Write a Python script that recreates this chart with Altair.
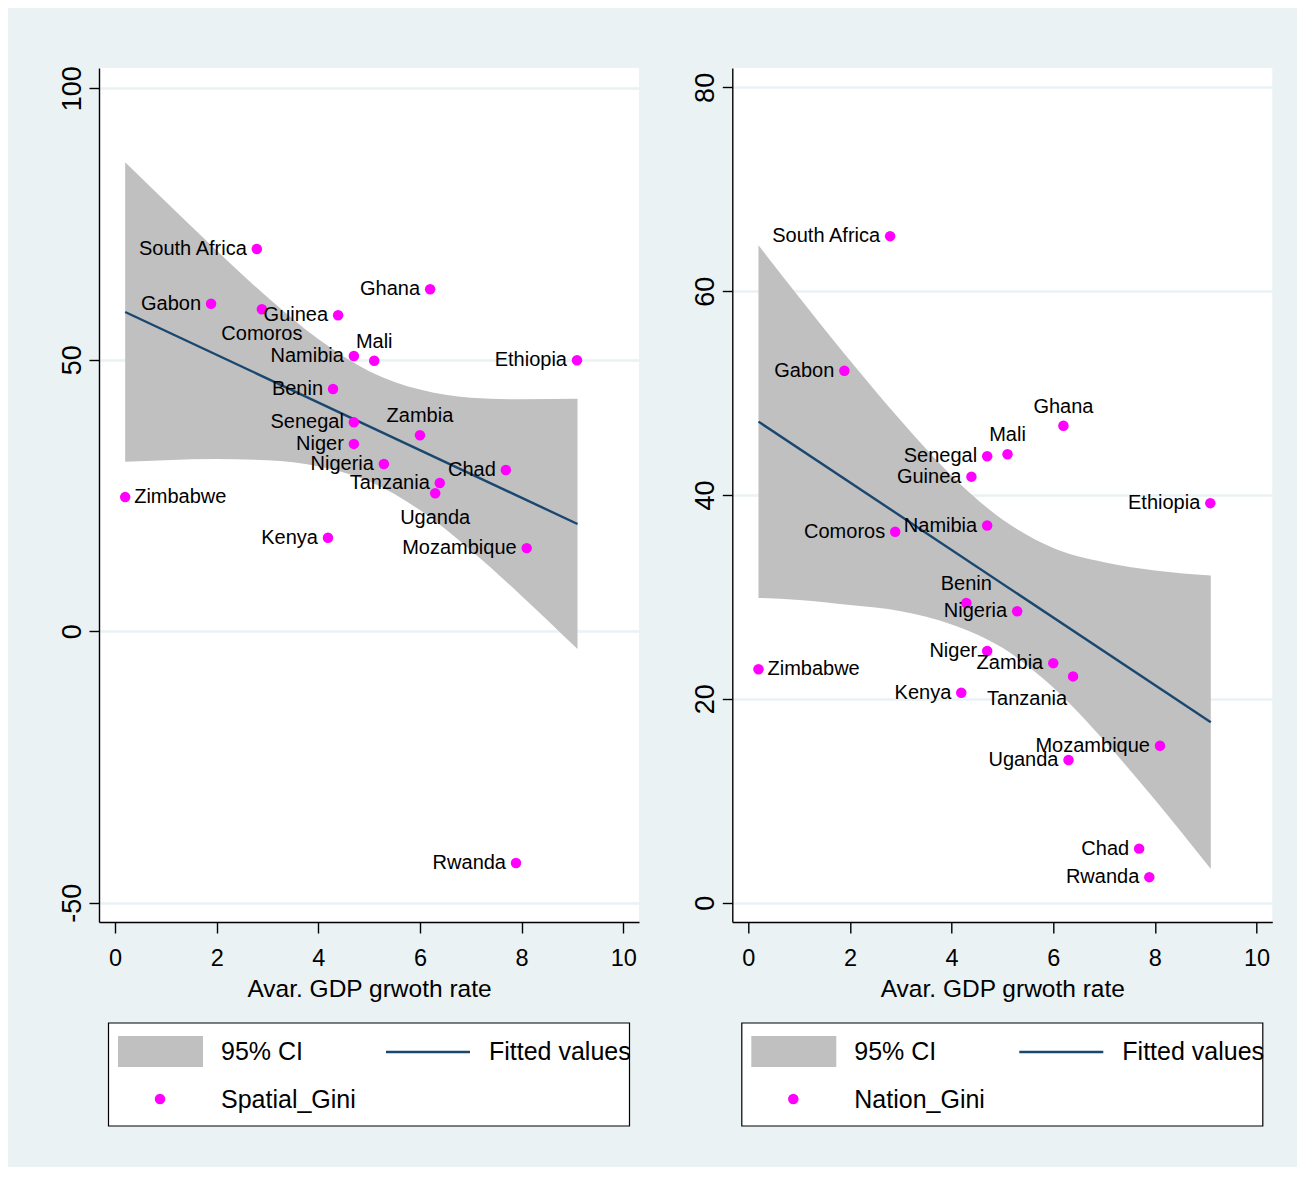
import altair as alt
import pandas as pd

# ---------------- data ----------------
countries = ["South Africa", "Gabon", "Comoros", "Guinea", "Namibia", "Mali", "Benin",
             "Ghana", "Ethiopia", "Zambia", "Senegal", "Niger", "Nigeria", "Chad",
             "Tanzania", "Uganda", "Kenya", "Mozambique", "Zimbabwe", "Rwanda"]
gdp_growth = [2.79, 1.89, 2.89, 4.39, 4.70, 5.10, 4.29, 6.20, 9.09, 6.00, 4.70, 4.70,
              5.29, 7.69, 6.39, 6.30, 4.19, 8.10, 0.20, 7.89]
spatial_gini = [70.4, 60.3, 59.3, 58.2, 50.7, 49.8, 44.6, 63.0, 49.9, 36.1, 38.5, 34.5,
                30.8, 29.7, 27.3, 25.4, 17.2, 15.3, 24.7, -42.7]
nation_gini = [65.4, 52.2, 36.4, 41.8, 37.0, 44.0, 29.4, 46.8, 39.2, 23.5, 43.8, 24.7,
               28.6, 5.3, 22.2, 14.0, 20.6, 15.4, 22.9, 2.5]
# Stata-style clock positions of the marker labels
spatial_labpos = [9, 9, 6, 9, 9, 12, 9, 9, 9, 12, 9, 9, 9, 9, 9, 6, 9, 9, 3, 9]
nation_labpos = [9, 9, 9, 9, 9, 12, 12, 12, 9, 9, 9, 9, 9, 9, 7, 9, 9, 9, 3, 9]

fit_x = [0.2, 9.1]
spatial_fit = [58.8, 19.75]
nation_fit = [47.2, 17.7]

ci_x = [0.2, 1, 2, 3, 4, 5, 6, 7, 8, 9.1]
spatial_ci_lo = [31.2, 31.5, 31.7, 31.5, 30.4, 27.6, 22.3, 14.9, 6.5, -3.3]
spatial_ci_hi = [86.4, 79.1, 70.1, 61.5, 53.8, 47.9, 44.5, 43.0, 42.7, 42.8]
nation_ci_lo = [29.9, 29.7, 29.2, 28.6, 27.3, 25.0, 21.1, 15.9, 10.1, 3.3]
nation_ci_hi = [64.5, 59.4, 53.2, 47.3, 41.9, 37.6, 34.8, 33.4, 32.6, 32.1]

x_ticks = [0, 2, 4, 6, 8, 10]
spatial_ticks = [-50, 0, 50, 100]
nation_ticks = [0, 20, 40, 60, 80]
x_title = "Avar. GDP grwoth rate"
legend_ci = "95% CI"
legend_fit = "Fitted values"

# ---------------- style ----------------
FONT = "Liberation Sans"
BG = "#EAF2F3"
GRAY = "#C0C0C0"
NAVY = "#1A476F"
MAGENTA = "#FF00FF"
W, H = 540, 854
DOT = 110


def panel(values, labpos, ci_lo, ci_hi, fit, ticks, ydom, series_name):
    xs = alt.Scale(domain=[-0.315, 10.31], nice=False, zero=False)
    ys = alt.Scale(domain=ydom, nice=False, zero=False)
    xax = alt.Axis(values=x_ticks, title=x_title, grid=False, labelFontSize=23.5,
                   titleFontSize=24.5, tickSize=11, tickWidth=1.4, domainWidth=1.4,
                   labelPadding=13, titlePadding=8, labelFlush=False)
    yax = alt.Axis(values=ticks, title=None, grid=True, gridColor=BG, gridWidth=2.5,
                   labelFontSize=27, labelAngle=270, labelAlign="center",
                   labelBaseline="alphabetic", tickSize=10, tickWidth=1.4,
                   domainWidth=1.4, labelPadding=9, labelFlush=False,
                   labelExpr="datum.value < 0 ? '-' + abs(datum.value) : '' + datum.value")

    def X(f):
        return alt.X(f, scale=xs, axis=xax)

    def Y(f):
        return alt.Y(f, scale=ys, axis=yax)

    pts = pd.DataFrame({"country": countries, "gdp": gdp_growth, "gini": values, "pos": labpos})
    ci = pd.DataFrame({"x": ci_x, "lo": ci_lo, "hi": ci_hi})
    fd = pd.DataFrame({"x": fit_x, "y": fit})

    band = alt.Chart(ci).mark_area(color=GRAY, opacity=1, interpolate="monotone").encode(
        x=X("x:Q"), y=Y("lo:Q"), y2="hi:Q")
    line = alt.Chart(fd).mark_line(color=NAVY, strokeWidth=2.4).encode(x=X("x:Q"), y=Y("y:Q"))
    dots = alt.Chart(pts).mark_point(filled=True, shape="circle", size=DOT, color=MAGENTA,
                                     opacity=1).encode(x=X("gdp:Q"), y=Y("gini:Q"))

    label_styles = {
        9: dict(align="right", dx=-10, dy=0),
        3: dict(align="left", dx=9, dy=0),
        12: dict(align="center", dx=0, dy=-19),
        6: dict(align="center", dx=0, dy=25),
        7: dict(align="right", dx=-6, dy=23),
    }
    labels = []
    for p, st in label_styles.items():
        labels.append(
            alt.Chart(pts).transform_filter(alt.datum.pos == p).mark_text(
                font=FONT, fontSize=20, color="black", baseline="middle", **st
            ).encode(x=X("gdp:Q"), y=Y("gini:Q"), text="country:N"))

    # legend box drawn below the plot
    one = pd.DataFrame({"t": [""]})
    box = alt.Chart(one).mark_rect(fill="white", stroke="black", strokeWidth=1.2).encode(
        x=alt.value(9.5), x2=alt.value(530.5), y=alt.value(955), y2=alt.value(1058))
    sw_ci = alt.Chart(one).mark_rect(fill=GRAY).encode(
        x=alt.value(19), x2=alt.value(104), y=alt.value(968), y2=alt.value(999))
    sw_fit = alt.Chart(one).mark_rule(color=NAVY, strokeWidth=2.4).encode(
        x=alt.value(287), x2=alt.value(371), y=alt.value(984))
    sw_pt = alt.Chart(one).mark_point(filled=True, shape="circle", size=DOT, color=MAGENTA,
                                      opacity=1).encode(x=alt.value(61), y=alt.value(1031))

    def ltext(s, x, y):
        return alt.Chart(pd.DataFrame({"t": [s]})).mark_text(
            font=FONT, fontSize=25, color="black", align="left", baseline="middle").encode(
            text="t:N", x=alt.value(x), y=alt.value(y))

    leg = [box, sw_ci, sw_fit, sw_pt,
           ltext(legend_ci, 122, 984), ltext(legend_fit, 390, 984), ltext(series_name, 122, 1032)]

    return alt.layer(band, line, dots, *labels, *leg).properties(width=W, height=H)


left = panel(spatial_gini, spatial_labpos, spatial_ci_lo, spatial_ci_hi, spatial_fit,
             spatial_ticks, [-53.57, 103.74], "Spatial_Gini")
right = panel(nation_gini, nation_labpos, nation_ci_lo, nation_ci_hi, nation_fit,
              nation_ticks, [-1.9, 81.9], "Nation_Gini")

chart = alt.hconcat(left, right, spacing=93.3, bounds="flush").properties(
    background=BG,
    padding={"left": 49, "top": 57, "right": 24, "bottom": 40},
).configure_view(fill="white", stroke="transparent", strokeWidth=0).configure_axis(
    labelFont=FONT, titleFont=FONT, labelColor="black", titleColor="black",
    domainColor="black", tickColor="black", titleFontWeight="normal"
)

chart.save("out.html", embed_options={"renderer": "svg", "actions": False})
